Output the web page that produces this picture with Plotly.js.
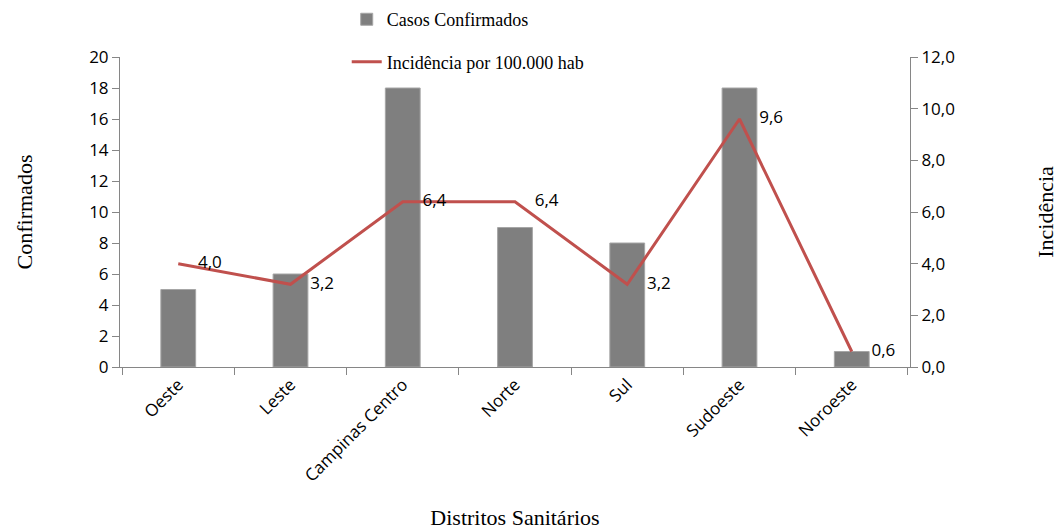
<!DOCTYPE html>
<html>
<head>
<meta charset="utf-8">
<script src="https://cdn.plot.ly/plotly-3.0.1.min.js"></script>
<style>html,body{margin:0;padding:0;background:#fff;}#chart{width:1059px;height:530px;}</style>
</head>
<body>
<div id="chart"></div>
<script>
const distritos = ["Oeste", "Leste", "Campinas Centro", "Norte", "Sul", "Sudoeste", "Noroeste"];
const confirmados = [5, 6, 18, 9, 8, 18, 1];
const incidencia = [4.0, 3.2, 6.4, 6.4, 3.2, 9.6, 0.6];
const incidenciaLabels = incidencia.map(v => v.toFixed(1).replace(".", ","));

const sansFont = "Open Sans, Noto Sans, sans-serif";
const serifFont = "Liberation Serif, DejaVu Serif, serif";
const axisGray = "#868686";

const traces = [
  {
    type: "bar",
    name: "Casos Confirmados",
    x: distritos,
    y: confirmados,
    marker: {color: "#7f7f7f", line: {color: "#a6a6a6", width: 1}},
    legendgroup: "a",
    hoverinfo: "x+y"
  },
  {
    type: "scatter",
    mode: "lines+markers+text",
    name: "Incidência por 100.000 hab",
    x: distritos,
    y: incidencia,
    yaxis: "y2",
    line: {color: "#c0504d", width: 3},
    marker: {size: 30, color: "rgba(0,0,0,0)"},
    text: incidenciaLabels,
    textposition: "middle right",
    textfont: {family: sansFont, size: 17, color: "#000"},
    legendgroup: "b",
    cliponaxis: false
  }
];

const layout = {
  width: 1059,
  height: 530,
  margin: {l: 120, r: 149, t: 57, b: 163, autoexpand: false},
  paper_bgcolor: "#fff",
  plot_bgcolor: "#fff",
  separators: ",.",
  bargap: 0.69,
  showlegend: true,
  legend: {
    x: 0.287, y: 0.998, xanchor: "left", yanchor: "top",
    yref: "container",
    orientation: "v",
    font: {family: serifFont, size: 18, color: "#000"},
    tracegroupgap: 16,
    bgcolor: "rgba(0,0,0,0)"
  },
  xaxis: {
    type: "category",
    tickangle: -45,
    tickfont: {family: sansFont, size: 17, color: "#000"},
    ticks: "outside",
    tickson: "boundaries",
    ticklen: 7,
    tickcolor: axisGray,
    showline: true,
    linecolor: axisGray,
    linewidth: 1,
    showgrid: false,
    title: {text: "Distritos Sanitários", font: {family: serifFont, size: 22, color: "#000"}, standoff: 26}
  },
  yaxis: {
    range: [0, 20],
    dtick: 2,
    tickfont: {family: sansFont, size: 17, color: "#000"},
    ticks: "outside",
    ticklen: 7,
    tickcolor: axisGray,
    showline: true,
    linecolor: axisGray,
    showgrid: false,
    zeroline: false,
    title: {text: "Confirmados", font: {family: serifFont, size: 22, color: "#000"}, standoff: 50}
  },
  yaxis2: {
    range: [0, 12],
    dtick: 2,
    tickformat: ".1f",
    overlaying: "y",
    side: "right",
    tickfont: {family: sansFont, size: 17, color: "#000"},
    ticks: "outside",
    ticklen: 7,
    tickcolor: axisGray,
    showline: true,
    linecolor: axisGray,
    showgrid: false,
    zeroline: false,
    title: {text: "Incidência", font: {family: serifFont, size: 22, color: "#000"}, standoff: 83}
  }
};

Plotly.newPlot("chart", traces, layout, {displayModeBar: false, staticPlot: true});
</script>
</body>
</html>
